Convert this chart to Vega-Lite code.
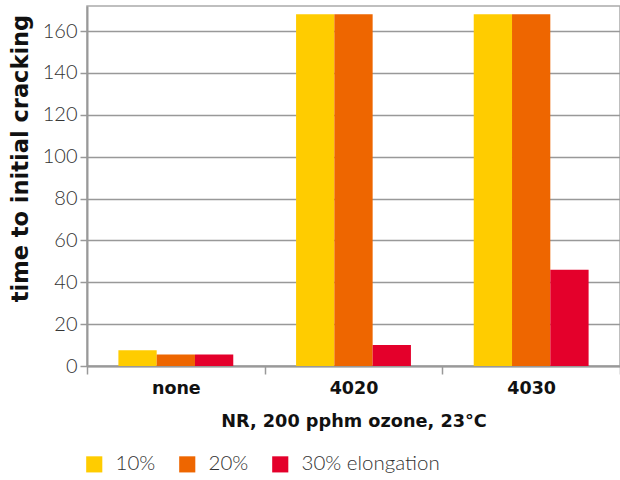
{
  "$schema": "https://vega.github.io/schema/vega-lite/v6.json",
  "autosize": "none",
  "padding": {"left": 87, "top": 6, "right": 0, "bottom": 114},
  "width": 533,
  "height": 360,
  "background": "white",
  "config": {
    "view": {"stroke": "#aaaaaa", "strokeWidth": 1.5},
    "font": "Lato"
  },
  "data": {
    "values": [
      {"compound": "none", "series": "10%", "value": 7.5},
      {"compound": "none", "series": "20%", "value": 5.5},
      {"compound": "none", "series": "30% elongation", "value": 5.5},
      {"compound": "4020", "series": "10%", "value": 168},
      {"compound": "4020", "series": "20%", "value": 168},
      {"compound": "4020", "series": "30% elongation", "value": 10},
      {"compound": "4030", "series": "10%", "value": 168},
      {"compound": "4030", "series": "20%", "value": 168},
      {"compound": "4030", "series": "30% elongation", "value": 46}
    ]
  },
  "mark": {"type": "bar"},
  "encoding": {
    "x": {
      "field": "compound",
      "type": "nominal",
      "sort": ["none", "4020", "4030"],
      "scale": {"paddingInner": 0, "paddingOuter": 0},
      "axis": {
        "title": "NR, 200 pphm ozone, 23°C",
        "titleFont": "DejaVu Sans",
        "titleFontWeight": "bold",
        "titleFontSize": 17.7,
        "titleColor": "#111",
        "titlePadding": 16,
        "labelAngle": 0,
        "labelFont": "DejaVu Sans",
        "labelFontWeight": "bold",
        "labelFontSize": 17.5,
        "labelColor": "#111",
        "labelPadding": 5,
        "tickBand": "extent",
        "tickColor": "#999",
        "tickSize": 8,
        "tickWidth": 1.5,
        "domainColor": "#999",
        "domainWidth": 2
      }
    },
    "xOffset": {
      "field": "series",
      "type": "nominal",
      "scale": {"paddingInner": 0, "paddingOuter": 0.82}
    },
    "y": {
      "field": "value",
      "type": "quantitative",
      "scale": {"domain": [0, 172], "nice": false},
      "axis": {
        "title": "time to initial cracking",
        "titleFont": "DejaVu Sans",
        "titleFontWeight": "bold",
        "titleFontSize": 22.5,
        "titleColor": "#111",
        "titlePadding": 10,
        "titleY": 152,
        "values": [0, 20, 40, 60, 80, 100, 120, 140, 160],
        "labelFont": "Lato",
        "labelFontWeight": 300,
        "labelFontSize": 20,
        "labelColor": "#333",
        "labelPadding": 3,
        "tickColor": "#999",
        "tickSize": 7,
        "tickWidth": 1.5,
        "domainColor": "#999",
        "domainWidth": 2,
        "gridColor": "#999",
        "gridWidth": 1.5
      }
    },
    "color": {
      "field": "series",
      "type": "nominal",
      "scale": {"domain": ["10%", "20%", "30% elongation"], "range": ["#FFCC00", "#EE6600", "#E4002B"]},
      "legend": {
        "title": null,
        "orient": "none",
        "legendX": -3,
        "legendY": 448,
        "direction": "horizontal",
        "symbolType": "square",
        "symbolSize": 260,
        "symbolStrokeWidth": 0,
        "labelFont": "Lato",
        "labelFontWeight": 300,
        "labelFontSize": 20.5,
        "labelColor": "#333",
        "labelOffset": 11,
        "columnPadding": 21
      }
    }
  }
}
